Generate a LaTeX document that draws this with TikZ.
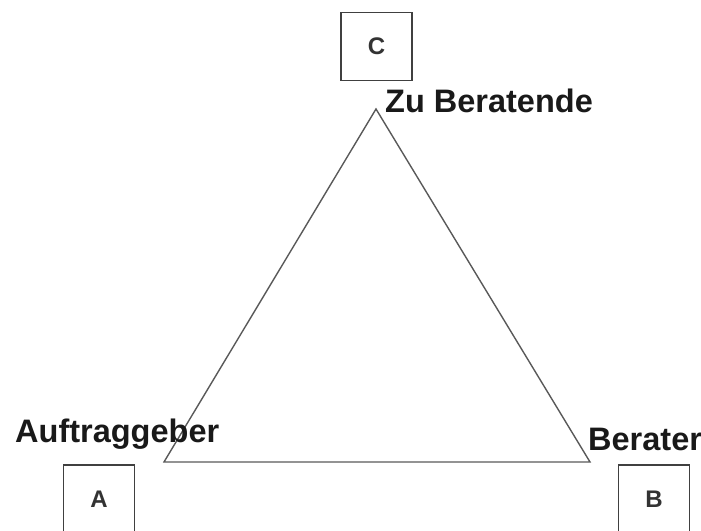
\documentclass[tikz,border=0pt]{standalone}
\usepackage{fontspec}
\setmainfont{Liberation Sans}
\begin{document}
\begin{tikzpicture}[x=1pt,y=-1pt,
  box/.style={draw=black!75, line width=1.8pt, minimum width=71pt, minimum height=68pt, inner sep=0pt,
    font=\fontsize{24}{28}\selectfont\bfseries, text=black!80},
  lbl/.style={anchor=base west, inner sep=0pt, font=\fontsize{32.5}{37}\selectfont\bfseries, text=black!90},
  tri/.style={draw=black!65, line width=1.4pt, line join=miter}]
\useasboundingbox (0,0) rectangle (701,530);
\coordinate (top) at (376,109);
\coordinate (left) at (164,462);
\coordinate (right) at (590,462);
\draw[tri] (top) -- (right) -- (left) -- cycle;
\node[box] (C) at (376.5,46.5) {C};
\node[box] (A) at (99,499) {A};
\node[box] (B) at (654,499) {B};
\node[lbl] (lC) at (385,112) {Zu Beratende};
\node[lbl] (lA) at (15,442) {Auftraggeber};
\node[lbl] (lB) at (588,450) {Berater};
\end{tikzpicture}
\end{document}
